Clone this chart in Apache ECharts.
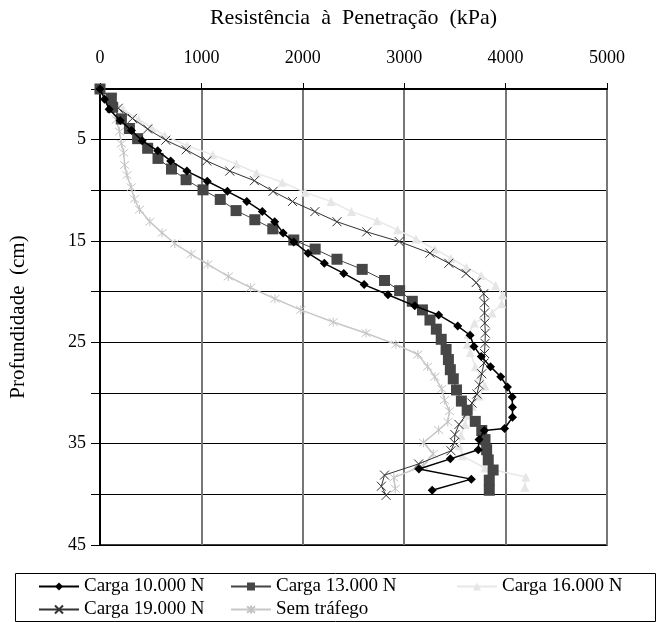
<!DOCTYPE html>
<html>
<head>
<meta charset="UTF-8">
<title>Resistência à Penetração</title>
<script src="https://cdn.jsdelivr.net/npm/echarts@6/dist/echarts.min.js"></script>
<style>
  html, body { margin: 0; padding: 0; background: #fff; }
  #main { width: 660px; height: 622px; }
</style>
</head>
<body>
<div id="main"></div>
<script type="text/javascript">
// profundidade (cm) e resistência (kPa), uma lista por série
var prof10 = [0, 1, 2, 3.1, 4.1, 5.1, 6.1, 7.1, 8.1, 9.1, 10.1, 11.1, 12.1, 13.1, 14.2, 15.1, 16.2, 17.2, 18.2, 19.3, 20.3, 21.4, 22.3, 23.4, 24.3, 25.4, 26.4, 27.4, 28.4, 29.4, 30.4, 31.4, 32.4, 33.5, 33.7, 34.6, 35.6, 36.5, 37.5, 38.5, 39.6];
var res10 = [0, 45, 90, 200, 310, 416, 569, 697, 857, 1058, 1256, 1448, 1601, 1723, 1806, 1911, 2052, 2212, 2404, 2605, 2840, 3104, 3340, 3528, 3650, 3688, 3760, 3851, 3952, 4018, 4065, 4068, 4068, 3990, 3790, 3738, 3730, 3455, 3145, 3662, 3276];

var prof13 = [0, 0.9, 1.8, 2.95, 3.9, 4.9, 5.85, 6.85, 7.9, 8.95, 9.95, 10.9, 12, 12.9, 13.8, 14.9, 15.8, 16.8, 17.8, 18.9, 19.9, 20.95, 21.8, 22.8, 23.7, 24.7, 25.7, 26.7, 27.7, 28.6, 29.7, 30.8, 31.7, 32.8, 33.7, 34.6, 35.6, 36.6, 37.6, 38.6, 39.6];
var res13 = [0, 112, 125, 211, 290, 371, 470, 572, 705, 849, 1016, 1186, 1342, 1527, 1704, 1911, 2122, 2337, 2586, 2806, 2955, 3080, 3180, 3254, 3317, 3365, 3413, 3436, 3455, 3484, 3516, 3564, 3621, 3701, 3765, 3797, 3813, 3829, 3877, 3839, 3839];

var prof16 = [0, 1, 2, 3, 3.8, 4.6, 5.6, 6.5, 7.4, 8.3, 9.2, 10.2, 11.1, 12.1, 13, 13.9, 14.8, 15.8, 16.7, 17.6, 18.4, 19.4, 20.3, 21.2, 22.1, 23.1, 24.2, 25.2, 26, 27.4, 28.3, 29.3, 30.3, 31.3, 32.2, 33.1, 34.2, 35.2, 36.2, 37.4, 38.3, 39.3];
var res16 = [0, 110, 230, 380, 510, 640, 860, 1112, 1345, 1544, 1797, 2023, 2279, 2480, 2733, 2934, 3116, 3302, 3461, 3615, 3760, 3902, 3970, 3962, 3868, 3693, 3630, 3621, 3653, 3701, 3749, 3797, 3740, 3669, 3620, 3600, 3560, 3540, 3573, 3797, 4200, 4190];

var prof19 = [0, 1, 1.9, 2.9, 3.95, 5.05, 6, 7.1, 8.1, 9.05, 10.1, 11.1, 12.1, 13.1, 14.1, 15.05, 16.2, 17.2, 18.2, 19.1, 20.2, 21.1, 22.1, 23.1, 24.1, 25.1, 26.1, 27.05, 28.1, 29.2, 30.1, 31, 32, 33.1, 34.1, 34.9, 35.7, 37, 38.1, 39.2, 40.1];
var res19 = [0, 120, 180, 320, 470, 649, 850, 1053, 1280, 1523, 1707, 1898, 2119, 2337, 2631, 2950, 3254, 3440, 3610, 3710, 3784, 3792, 3792, 3795, 3800, 3797, 3792, 3787, 3765, 3740, 3717, 3669, 3621, 3540, 3500, 3495, 3462, 3142, 2806, 2775, 2822];

var profST = [0, 1, 1.9, 3.05, 4.2, 5.4, 6.3, 7.5, 8.5, 9.7, 10.85, 11.9, 13.1, 14.2, 15.25, 16.3, 17.3, 18.5, 19.6, 20.7, 21.8, 23, 24.1, 25.2, 26.2, 27.4, 28.4, 29.6, 30.7, 31.8, 32.85, 33.65, 34.9, 36, 37.15, 38.35, 39.45];
var resST = [0, 70, 106, 160, 192, 211, 234, 243, 266, 307, 339, 390, 492, 612, 738, 898, 1064, 1265, 1486, 1725, 1980, 2300, 2624, 2918, 3135, 3231, 3302, 3370, 3398, 3446, 3430, 3340, 3190, 3286, 3190, 2898, 2912];

var nomes = ['Carga 10.000 N', 'Carga 13.000 N', 'Carga 16.000 N', 'Carga 19.000 N', 'Sem tráfego'];
var xTicks = [0, 1000, 2000, 3000, 4000, 5000];
var yTicks = [5, 15, 25, 35, 45];

function pares(res, prof) {
  var out = [];
  for (var i = 0; i < res.length; i++) out.push([res[i], prof[i]]);
  return out;
}

var fonte = '"Liberation Serif", "DejaVu Serif", serif';
var simboloX = 'path://M0,0L10,10M10,0L0,10';
var simboloAst = 'path://M0,0L10,10M10,0L0,10M5,-1L5,11';

var myChart = echarts.init(document.getElementById('main'));

var legendaBase = {
  orient: 'vertical',
  top: 577,
  itemWidth: 40, itemHeight: 10, itemGap: 4,
  padding: 0,
  textStyle: { fontFamily: fonte, fontSize: 19, color: '#000', lineHeight: 16 }
};

var option = {
  animation: false,
  backgroundColor: '#fff',
  textStyle: { fontFamily: fonte },
  grid: {
    left: 100, right: 53, top: 89, bottom: 77,
    show: true, borderColor: '#000', borderWidth: 1.5
  },
  graphic: [{
    type: 'rect', left: 15, top: 573, z: -1,
    shape: { width: 640, height: 48 },
    style: { fill: '#fff', stroke: '#000', lineWidth: 1 }
  }],
  legend: [
    Object.assign({}, legendaBase, { left: 38, data: [nomes[0], nomes[3]] }),
    Object.assign({}, legendaBase, { left: 230, data: [nomes[1], nomes[4]] }),
    Object.assign({}, legendaBase, { left: 456, data: [nomes[2]] })
  ],
  xAxis: {
    type: 'value', position: 'top',
    min: 0, max: 5000, interval: 1000,
    name: 'Resistência  à  Penetração  (kPa)',
    nameLocation: 'middle', nameGap: 60,
    nameTextStyle: { fontFamily: fonte, fontSize: 22, color: '#000' },
    axisLine: { show: true, lineStyle: { color: '#000', width: 2 } },
    axisTick: { show: true, inside: false, length: 6, lineStyle: { color: '#000' } },
    axisLabel: {
      fontFamily: fonte, fontSize: 18, color: '#000', margin: 22,
      formatter: function (v) { return xTicks.indexOf(v) >= 0 ? String(v) : ''; }
    },
    splitLine: { show: true, lineStyle: { color: '#777', width: 2 } }
  },
  yAxis: {
    type: 'value', inverse: true,
    min: 0, max: 45, interval: 5,
    name: 'Profundidade  (cm)',
    nameLocation: 'middle', nameGap: 71, nameRotate: 90,
    nameTextStyle: { fontFamily: fonte, fontSize: 21, color: '#000' },
    axisLine: { show: true, onZero: false, lineStyle: { color: '#000', width: 2 } },
    axisTick: { show: true, inside: false, length: 9, lineStyle: { color: '#000' } },
    axisLabel: {
      fontFamily: fonte, fontSize: 18, color: '#000', margin: 14,
      formatter: function (v) { return yTicks.indexOf(v) >= 0 ? String(v) : ''; }
    },
    splitLine: { show: true, lineStyle: { color: '#000', width: 1 } }
  },
  series: [
    {
      name: nomes[0], type: 'line', data: pares(res10, prof10),
      symbol: 'diamond', symbolSize: 9, z: 6,
      lineStyle: { color: '#000', width: 1.5 },
      itemStyle: { color: '#000' }
    },
    {
      name: nomes[1], type: 'line', data: pares(res13, prof13),
      symbol: 'rect', symbolSize: 11, z: 5,
      lineStyle: { color: '#444', width: 1 },
      itemStyle: { color: '#464646' }
    },
    {
      name: nomes[2], type: 'line', data: pares(res16, prof16),
      symbol: 'triangle', symbolSize: 9, z: 2,
      lineStyle: { color: '#e8e8e8', width: 1.5 },
      itemStyle: { color: '#e6e6e6' }
    },
    {
      name: nomes[3], type: 'line', data: pares(res19, prof19),
      symbol: simboloX, symbolSize: 9, z: 4,
      lineStyle: { color: '#333', width: 1 },
      itemStyle: { color: 'none', borderColor: '#333', borderWidth: 1 }
    },
    {
      name: nomes[4], type: 'line', data: pares(resST, profST),
      symbol: simboloAst, symbolSize: 9, z: 3,
      lineStyle: { color: '#c8c8c8', width: 1.5 },
      itemStyle: { color: 'none', borderColor: '#c4c4c4', borderWidth: 1 }
    }
  ]
};

myChart.setOption(option);
</script>
</body>
</html>
